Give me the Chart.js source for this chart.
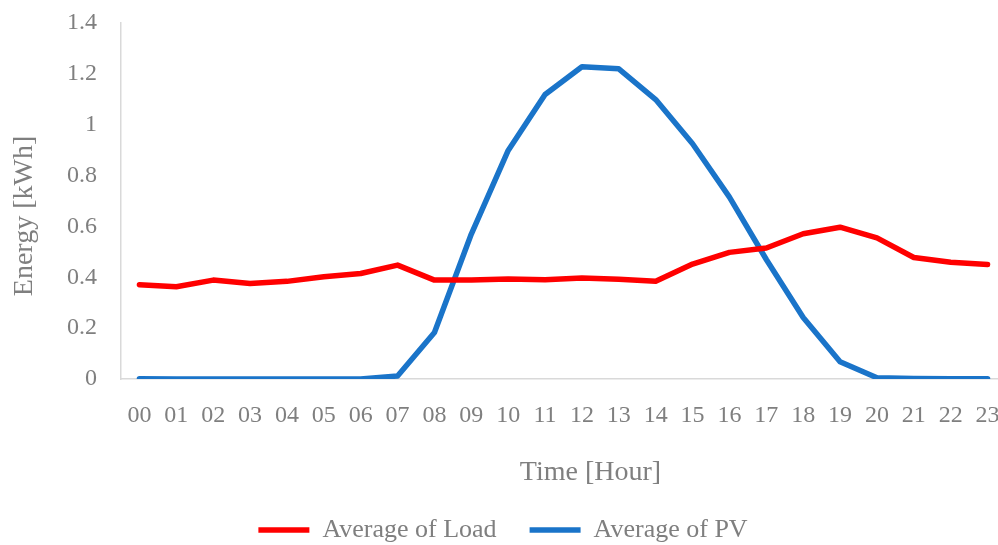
<!DOCTYPE html>
<html>
<head>
<meta charset="utf-8">
<script src="https://cdn.jsdelivr.net/npm/chart.js@4/dist/chart.umd.min.js"></script>
<style>
  html, body { margin: 0; padding: 0; background: #ffffff; }
  #wrap { width: 998px; height: 545px; overflow: hidden; position: relative; }
  canvas { display: block; }
</style>
</head>
<body>
<div id="wrap"><canvas id="chart" width="1028" height="545"></canvas></div>
<script>
// Hour-of-day categories
const hours = ['00','01','02','03','04','05','06','07','08','09','10','11',
               '12','13','14','15','16','17','18','19','20','21','22','23'];

// Average household load per hour [kWh]
const loadAvg = [0.371, 0.363, 0.389, 0.376, 0.384, 0.402, 0.415, 0.448,
                 0.389, 0.389, 0.393, 0.390, 0.397, 0.392, 0.384, 0.452,
                 0.498, 0.515, 0.571, 0.597, 0.555, 0.478, 0.459, 0.450];

// Average PV generation per hour [kWh]
const pvAvg = [0.001, 0.0, 0.0, 0.0, 0.0, 0.0, 0.0, 0.012,
               0.183, 0.570, 0.899, 1.119, 1.228, 1.220, 1.099, 0.925,
               0.715, 0.470, 0.242, 0.068, 0.005, 0.002, 0.001, 0.001];

const seriesNames = ['Average of Load', 'Average of PV'];
const xTitle = 'Time [Hour]';
const yTitle = 'Energy [kWh]';

const FONT = "'Liberation Serif', 'Times New Roman', serif";
const TEXT = '#7f7f7f';
const AXIS = '#d9d9d9';

Chart.defaults.font.family = FONT;
Chart.defaults.color = TEXT;

// Axis titles, placed relative to the plot area
const axisTitlePlugin = {
  id: 'axisTitles',
  afterDraw(chart) {
    const ctx = chart.ctx;
    const area = chart.chartArea;
    ctx.save();
    ctx.font = '28px ' + FONT;
    ctx.fillStyle = TEXT;
    ctx.textAlign = 'center';
    ctx.textBaseline = 'alphabetic';
    ctx.fillText(xTitle, (area.left + area.right) / 2 + 27, area.bottom + 101);

    ctx.translate(25, (area.top + area.bottom) / 2 + 15);
    ctx.rotate(-Math.PI / 2);
    ctx.textBaseline = 'middle';
    ctx.fillText(yTitle, 0, 0);
    ctx.restore();
  }
};

new Chart(document.getElementById('chart'), {
  type: 'line',
  data: {
    labels: hours,
    datasets: [
      {
        label: seriesNames[0],
        data: loadAvg,
        borderColor: '#ff0000',
        backgroundColor: '#ff0000',
        borderWidth: 5.5,
        borderCapStyle: 'round',
        borderJoinStyle: 'round',
        pointRadius: 0,
        tension: 0
      },
      {
        label: seriesNames[1],
        data: pvAvg,
        borderColor: '#1a74c9',
        backgroundColor: '#1a74c9',
        borderWidth: 5.5,
        borderCapStyle: 'round',
        borderJoinStyle: 'round',
        pointRadius: 0,
        tension: 0
      }
    ]
  },
  options: {
    responsive: false,
    animation: false,
    devicePixelRatio: 1,
    layout: { padding: { top: 23, right: 22, bottom: -8, left: 0 } },
    plugins: {
      tooltip: { enabled: false },
      legend: {
        position: 'bottom',
        labels: {
          usePointStyle: true,
          pointStyle: 'line',
          pointStyleWidth: 51,
          boxHeight: 25,
          padding: 33,
          color: TEXT,
          font: { size: 26, family: FONT }
        }
      }
    },
    scales: {
      x: {
        offset: true,
        grid: { display: false, drawTicks: false },
        border: { display: true, color: AXIS, width: 1.5 },
        ticks: {
          padding: 22,
          maxRotation: 0,
          autoSkip: false,
          color: TEXT,
          font: { size: 24, family: FONT }
        },
        afterFit(scale) { scale.height = 105; }
      },
      y: {
        min: 0,
        max: 1.4,
        grid: { display: false, drawTicks: false },
        border: { display: true, color: AXIS, width: 1.5 },
        ticks: {
          stepSize: 0.2,
          padding: 24,
          color: TEXT,
          font: { size: 24, family: FONT },
          callback: (v) => String(Number(v.toFixed(1)))
        },
        afterFit(scale) {
          scale.width = 121;
          scale.paddingTop = 0;
          scale.paddingBottom = 0;
        }
      }
    }
  },
  plugins: [axisTitlePlugin]
});
</script>
</body>
</html>
